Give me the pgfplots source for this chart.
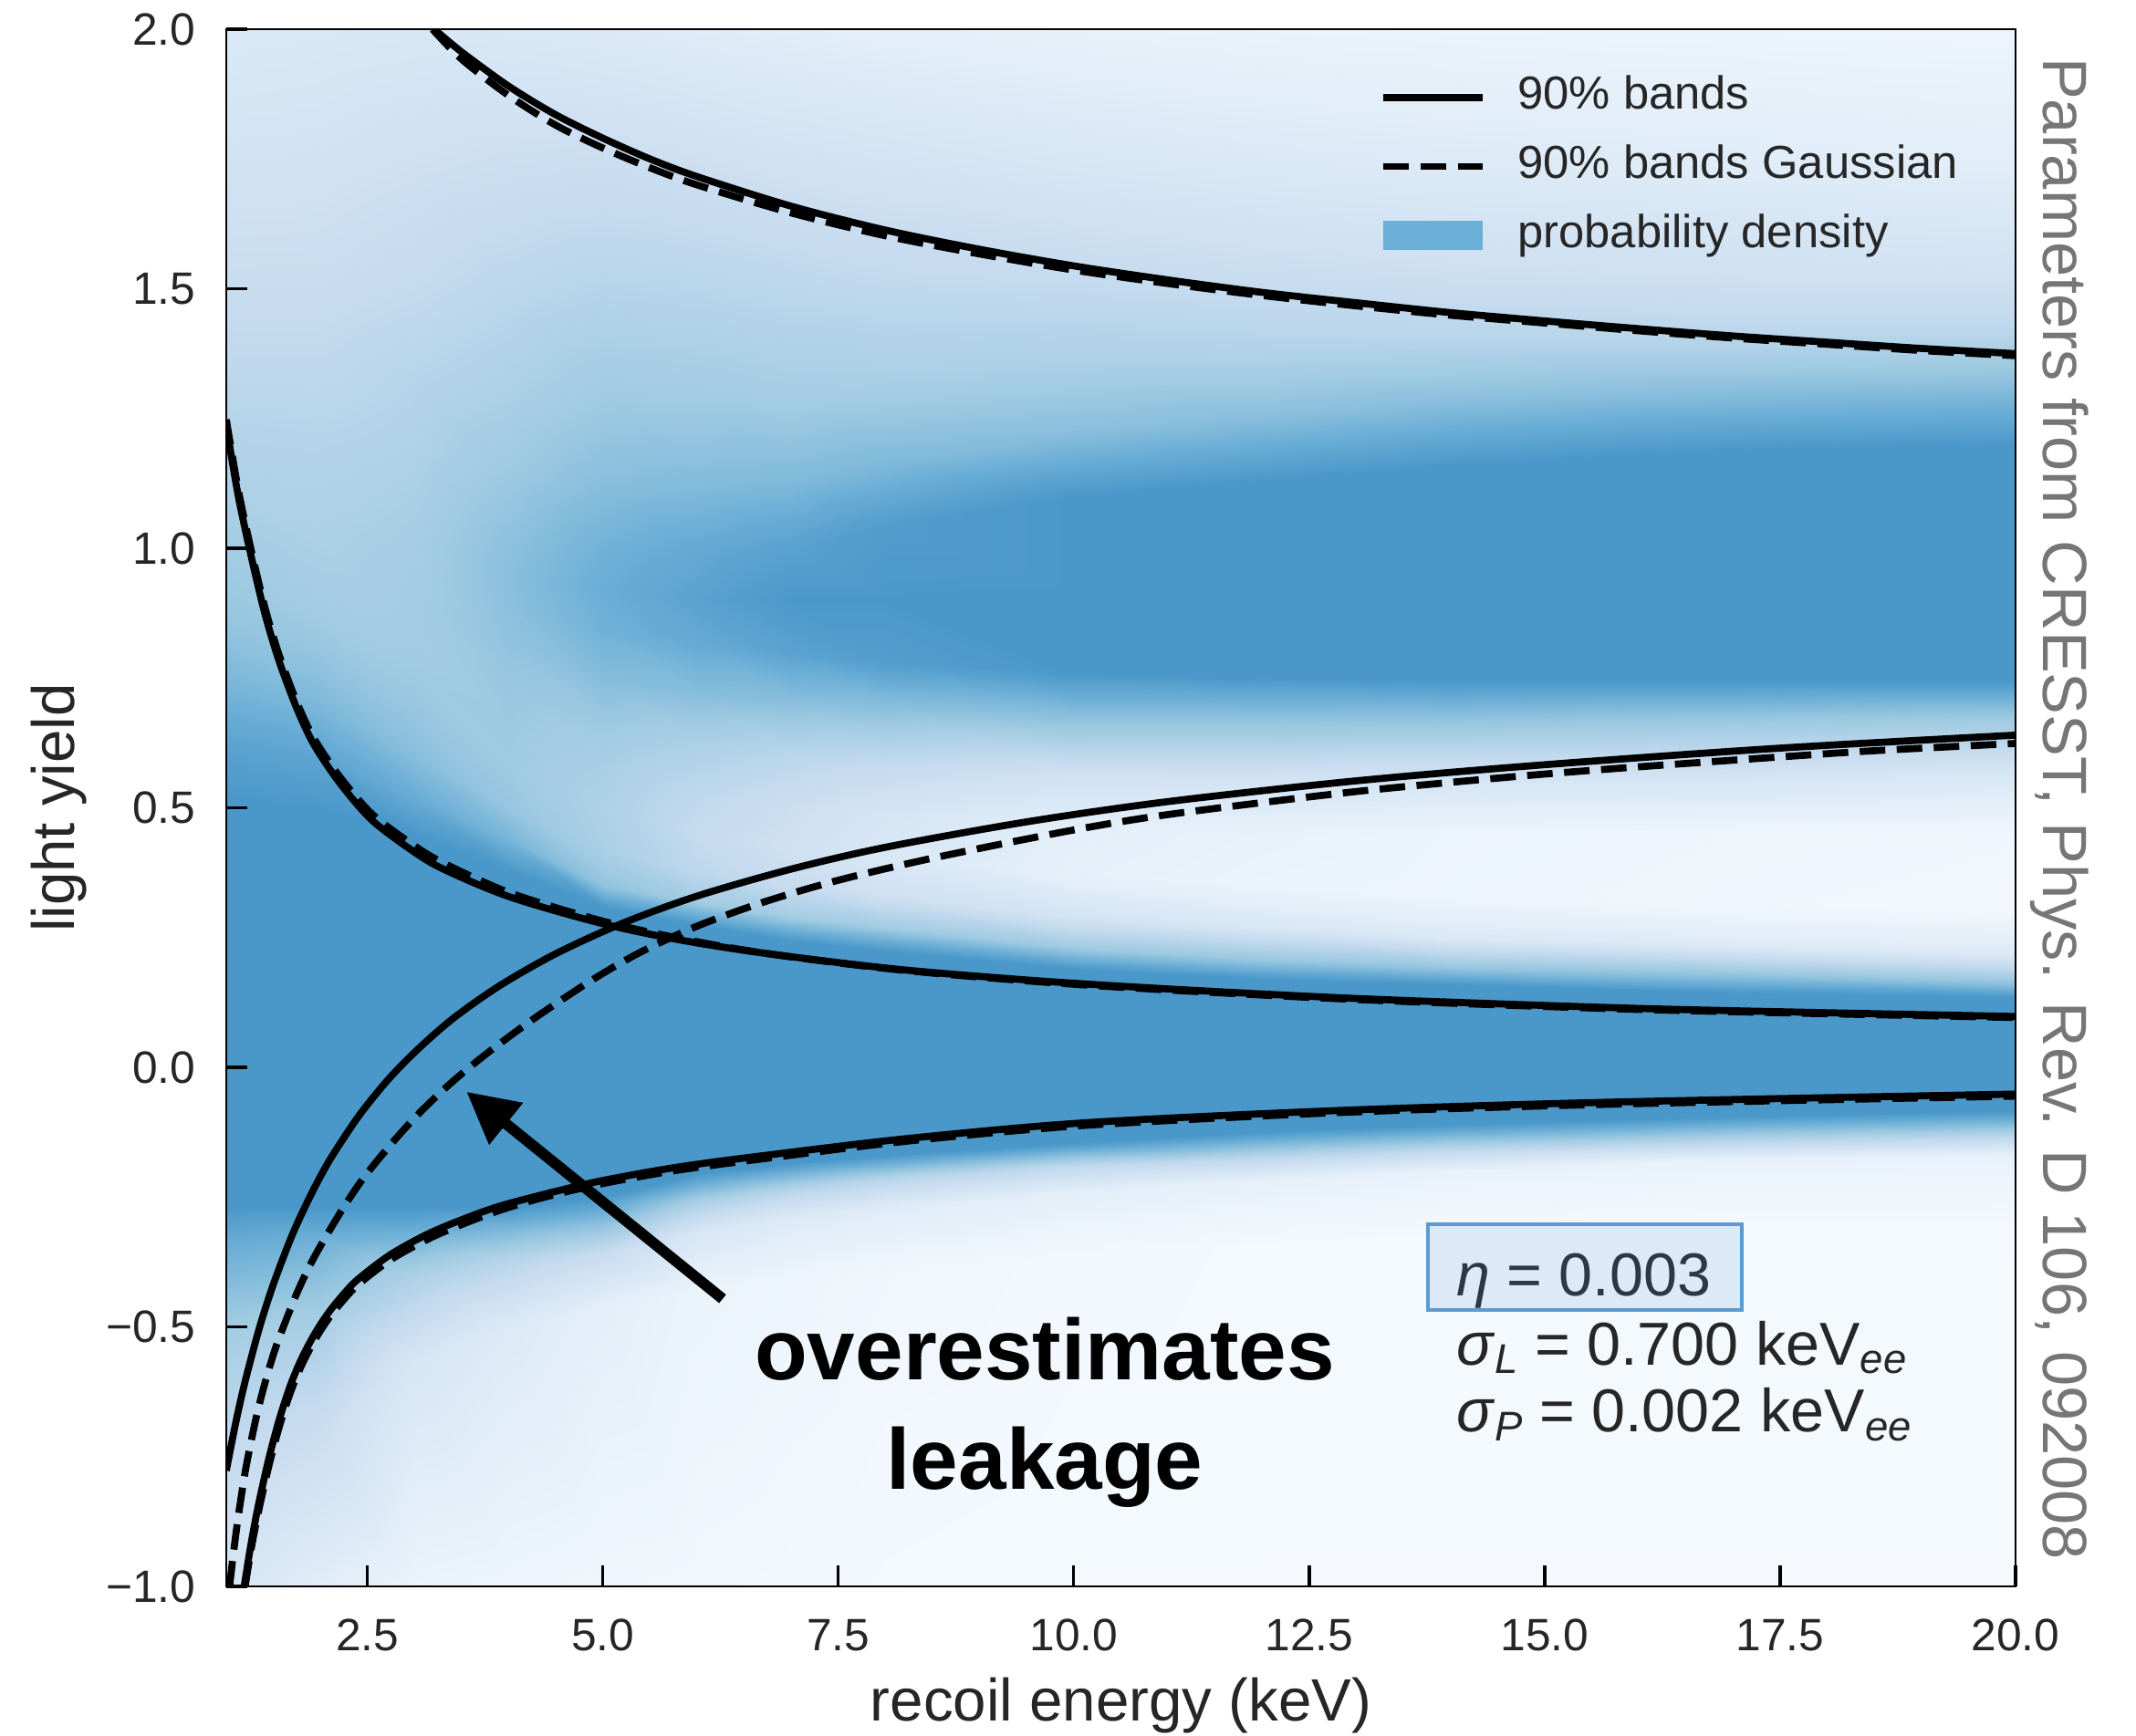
\documentclass[border=0pt]{standalone}
\usepackage{fontspec}
\setmainfont{Liberation Sans}
\usepackage{pgfplots}
\pgfplotsset{compat=1.18}
\usetikzlibrary{arrows.meta}

\definecolor{patchblue}{RGB}{107,174,214}
\definecolor{boxedge}{RGB}{90,155,208}
\definecolor{boxfill}{RGB}{220,233,246}
\definecolor{txt}{RGB}{38,38,38}
\definecolor{etatxt}{RGB}{43,57,68}
\definecolor{greytxt}{RGB}{118,118,118}
\newcommand\sub[1]{\raisebox{-2.8pt}{\fontsize{13}{13}\selectfont\itshape #1}}

\begin{document}
\begin{tikzpicture}
\path[use as bounding box] (-70.86pt,-46.57pt) rectangle (598.0pt,496.86pt);
\begin{axis}[
  at={(0pt,0pt)}, anchor=south west,
  scale only axis, width=560.29pt, height=487.71pt,
  xmin=1, xmax=20, ymin=-1, ymax=2,
  enlargelimits=false,
  axis on top,
  clip mode=individual,
  axis line style={line width=0.8pt, black},
  tick align=inside,
  xtick pos=left, ytick pos=left,
  major tick length=6.6pt,
  every tick/.style={line width=0.9pt, black},
  xtick={2.5,5,7.5,10,12.5,15,17.5,20},
  xticklabels={2.5,5.0,7.5,10.0,12.5,15.0,17.5,20.0},
  ytick={-1,-0.5,0,0.5,1,1.5,2},
  yticklabels={−1.0,−0.5,0.0,0.5,1.0,1.5,2.0},
  tick label style={font=\fontsize{14.2}{16}\selectfont, text=txt, inner sep=0pt},
  xticklabel style={anchor=base, yshift=-20pt},
  yticklabel style={anchor=east, xshift=-9.4pt},
  colormap={bl}{rgb255(0cm)=(247,251,255) rgb255(5cm)=(222,235,247) rgb255(10cm)=(198,219,239) rgb255(15cm)=(158,202,225) rgb255(20cm)=(107,174,214) rgb255(24cm)=(74,152,201)},
  point meta min=0, point meta max=1,
  xlabel={recoil energy (keV)},
  xlabel style={at={([yshift=-42pt]axis description cs:0.5,0)}, anchor=base, font=\fontsize{18.7}{22}\selectfont, text=txt, inner sep=0pt},
  ylabel={light yield},
  ylabel style={at={([xshift=-47.7pt]axis description cs:0,0.5)}, anchor=base, font=\fontsize{18.7}{22}\selectfont, text=txt, inner sep=0pt},
  legend style={at={(0.6445,0.9118)}, anchor=west, draw=none, fill=none,
    font=\fontsize{14.5}{17}\selectfont, text=txt, row sep=8.2pt, column sep=10pt,
    inner sep=0pt, nodes={inner sep=0pt, text height=10.4pt, text depth=3pt}},
  legend cell align=left,
]
\addlegendimage{legend image code/.code={\draw[black, line width=2.2pt] (0pt,0pt) -- (30.9pt,0pt);}}
\addlegendentry{90\% bands}
\addlegendimage{legend image code/.code={\draw[black, line width=2.2pt, dash pattern=on 8pt off 3.6pt] (0pt,0pt) -- (30.9pt,0pt);}}
\addlegendentry{90\% bands Gaussian}
\addlegendimage{legend image code/.code={\fill[patchblue] (0pt,-4.3pt) rectangle (30.9pt,4.3pt);}}
\addlegendentry{probability density}

% probability density (clipped), columns of constant recoil energy
\addplot[surf, shader=interp, forget plot, mesh/ordering=y varies, mesh/rows=20, point meta=explicit]
table[x=x, y=y, meta=v] {
x y v
1 -1.00 0.28
1 -0.75 0.42
1 -0.50 0.60
1 -0.34 0.85
1 -0.27 1.00
1 0.52 1.00
1 0.62 0.92
1 0.72 0.80
1 0.83 0.68
1 0.92 0.63
1 1.00 0.60
1 1.06 0.57
1 1.12 0.54
1 1.18 0.52
1 1.24 0.50
1 1.32 0.47
1 1.42 0.43
1 1.60 0.36
1 1.80 0.30
1 2.00 0.24
2 -1.00 0.18
2 -0.70 0.38
2 -0.47 0.60
2 -0.33 0.82
2 -0.27 1.00
2 0.50 1.00
2 0.60 0.90
2 0.70 0.76
2 0.80 0.66
2 0.88 0.60
2 0.96 0.57
2 1.02 0.55
2 1.08 0.54
2 1.14 0.52
2 1.22 0.50
2 1.30 0.47
2 1.42 0.43
2 1.58 0.37
2 1.76 0.32
2 2.00 0.25
3 -1.00 0.10
3 -0.57 0.27
3 -0.40 0.55
3 -0.33 0.78
3 -0.27 1.00
3 0.45 1.00
3 0.52 0.85
3 0.60 0.72
3 0.68 0.66
3 0.76 0.62
3 0.84 0.60
3 0.90 0.60
3 0.96 0.59
3 1.02 0.58
3 1.10 0.56
3 1.20 0.53
3 1.32 0.50
3 1.52 0.42
3 1.74 0.35
3 2.00 0.26
4 -1.00 0.08
4 -0.50 0.22
4 -0.37 0.50
4 -0.31 0.78
4 -0.27 1.00
4 0.38 1.00
4 0.44 0.78
4 0.50 0.66
4 0.58 0.62
4 0.66 0.63
4 0.74 0.65
4 0.82 0.68
4 0.88 0.70
4 0.94 0.71
4 1.02 0.69
4 1.14 0.63
4 1.30 0.55
4 1.50 0.47
4 1.74 0.37
4 2.00 0.25
5 -1.00 0.06
5 -0.46 0.16
5 -0.36 0.40
5 -0.30 0.70
5 -0.25 1.00
5 0.31 1.00
5 0.35 0.68
5 0.42 0.56
5 0.50 0.54
5 0.58 0.57
5 0.66 0.63
5 0.75 0.73
5 0.84 0.81
5 0.92 0.84
5 1.00 0.81
5 1.12 0.72
5 1.30 0.61
5 1.50 0.50
5 1.74 0.38
5 2.00 0.23
6 -1.00 0.05
6 -0.43 0.10
6 -0.32 0.26
6 -0.26 0.55
6 -0.205 1.00
6 0.275 1.00
6 0.32 0.60
6 0.38 0.46
6 0.45 0.42
6 0.52 0.45
6 0.62 0.55
6 0.72 0.72
6 0.82 0.87
6 0.90 0.92
6 1.00 0.87
6 1.12 0.74
6 1.30 0.60
6 1.50 0.49
6 1.74 0.36
6 2.00 0.20
7 -1.00 0.04
7 -0.41 0.08
7 -0.29 0.22
7 -0.235 0.50
7 -0.185 1.00
7 0.245 1.00
7 0.29 0.60
7 0.35 0.40
7 0.42 0.34
7 0.50 0.37
7 0.60 0.48
7 0.71 0.72
7 0.80 0.92
7 0.90 1.00
7 1.00 0.93
7 1.13 0.75
7 1.30 0.58
7 1.50 0.47
7 1.74 0.33
7 2.00 0.18
8 -1.00 0.03
8 -0.39 0.06
8 -0.27 0.20
8 -0.215 0.50
8 -0.17 1.00
8 0.225 1.00
8 0.27 0.60
8 0.33 0.34
8 0.40 0.25
8 0.48 0.28
8 0.58 0.42
8 0.70 0.72
8 0.78 0.96
8 0.90 1.00
8 1.04 0.97
8 1.16 0.76
8 1.32 0.57
8 1.50 0.45
8 1.74 0.31
8 2.00 0.16
10 -1.00 0.02
10 -0.36 0.04
10 -0.24 0.16
10 -0.19 0.45
10 -0.145 1.00
10 0.19 1.00
10 0.23 0.62
10 0.29 0.30
10 0.37 0.14
10 0.46 0.16
10 0.56 0.33
10 0.67 0.68
10 0.76 1.00
10 0.92 1.00
10 1.10 1.00
10 1.22 0.72
10 1.36 0.55
10 1.52 0.42
10 1.74 0.27
10 2.00 0.13
12 -1.00 0.02
12 -0.34 0.03
12 -0.22 0.14
12 -0.175 0.45
12 -0.125 1.00
12 0.17 1.00
12 0.205 0.66
12 0.27 0.26
12 0.35 0.10
12 0.45 0.12
12 0.55 0.30
12 0.67 0.68
12 0.75 1.00
12 0.93 1.00
12 1.13 1.00
12 1.25 0.72
12 1.38 0.52
12 1.52 0.39
12 1.74 0.24
12 2.00 0.11
14 -1.00 0.02
14 -0.32 0.03
14 -0.20 0.12
14 -0.16 0.45
14 -0.11 1.00
14 0.16 1.00
14 0.19 0.68
14 0.25 0.24
14 0.33 0.08
14 0.45 0.09
14 0.55 0.28
14 0.67 0.67
14 0.745 1.00
14 0.94 1.00
14 1.16 1.00
14 1.28 0.72
14 1.40 0.50
14 1.52 0.37
14 1.74 0.22
14 2.00 0.10
17 -1.00 0.02
17 -0.30 0.03
17 -0.18 0.12
17 -0.145 0.45
17 -0.095 1.00
17 0.145 1.00
17 0.175 0.70
17 0.235 0.22
17 0.31 0.06
17 0.45 0.07
17 0.55 0.27
17 0.675 0.66
17 0.745 1.00
17 0.95 1.00
17 1.19 1.00
17 1.30 0.72
17 1.41 0.48
17 1.52 0.35
17 1.74 0.20
17 2.00 0.09
20 -1.00 0.02
20 -0.30 0.03
20 -0.17 0.12
20 -0.135 0.45
20 -0.085 1.00
20 0.135 1.00
20 0.16 0.70
20 0.22 0.22
20 0.30 0.05
20 0.45 0.06
20 0.56 0.25
20 0.68 0.65
20 0.745 1.00
20 0.95 1.00
20 1.20 1.00
20 1.31 0.72
20 1.42 0.47
20 1.52 0.33
20 1.74 0.18
20 2.00 0.08
};

% 90% bands (solid)
\addplot[forget plot, black, line width=2.2pt, smooth, tension=0.5] coordinates {
(3.21,2.0) (3.5,1.956) (4,1.89) (4.5,1.835) (5,1.79) (5.5,1.75) (6,1.716) (7,1.659) (8,1.613) (9,1.576) (10,1.544) (11,1.517) (12,1.493) (13,1.473) (14,1.454) (15,1.438) (16,1.423) (17,1.409) (18,1.397) (19,1.385) (20,1.375)};
\addplot[forget plot, black, line width=2.2pt, smooth, tension=0.5] coordinates {
(1.0,-0.777) (1.1,-0.685) (1.2,-0.605) (1.35,-0.503) (1.5,-0.418) (1.7,-0.323) (1.9,-0.245) (2.1,-0.178) (2.4,-0.0955) (2.7,-0.0275) (3.0,0.029) (3.4,0.093) (3.9,0.157) (4.5,0.219) (5.2,0.277) (6,0.330) (7,0.382) (8,0.424) (9.5,0.473) (11,0.512) (13,0.552) (15,0.583) (17.5,0.615) (20,0.640)};
\addplot[forget plot, black, line width=2.2pt, smooth, tension=0.5] coordinates {
(1.0,1.236) (1.13,1.098) (1.27,0.98) (1.41,0.874) (1.56,0.783) (1.75,0.691) (1.93,0.622) (2.2,0.549) (2.53,0.479) (2.9,0.427) (3.27,0.385) (4.0,0.329) (4.97,0.278) (5.8,0.246) (6.75,0.219) (8.24,0.187) (10.17,0.160) (12.83,0.134) (15.72,0.115) (17.8,0.106) (20,0.098)};
\addplot[forget plot, black, line width=2.2pt, smooth, tension=0.5] coordinates {
(1.19,-1.0) (1.26,-0.921) (1.34,-0.844) (1.45,-0.755) (1.56,-0.68) (1.68,-0.613) (1.8,-0.561) (1.94,-0.513) (2.08,-0.474) (2.24,-0.438) (2.4,-0.408) (2.75,-0.36) (3.2,-0.316) (3.79,-0.274) (4.3,-0.248) (4.97,-0.219) (5.8,-0.192) (6.75,-0.169) (8.24,-0.137) (10.1,-0.107) (12.83,-0.083) (15.72,-0.067) (20,-0.0515)};

% 90% bands Gaussian (dashed)
\addplot[forget plot, black, line width=2.2pt, dash pattern=on 8pt off 3.6pt, smooth, tension=0.5] coordinates {
(3.19,2.0) (3.5,1.942) (4,1.872) (4.5,1.815) (5,1.771) (5.5,1.733) (6,1.7) (7,1.646) (8,1.602) (9,1.567) (10,1.536) (11,1.51) (12,1.487) (13,1.467) (14,1.449) (15,1.434) (16,1.419) (17,1.405) (18,1.393) (19,1.381) (20,1.371)};
\addplot[forget plot, black, line width=2.2pt, dash pattern=on 8pt off 3.6pt, smooth, tension=0.5] coordinates {
(1.035,-1.0) (1.08,-0.93) (1.13,-0.862) (1.2,-0.78) (1.27,-0.715) (1.33,-0.665) (1.4,-0.615) (1.48,-0.565) (1.56,-0.522) (1.75,-0.435) (1.93,-0.367) (2.2,-0.283) (2.45,-0.215) (2.75,-0.148) (3.05,-0.088) (3.4,-0.028) (3.79,0.03) (4.3,0.098) (4.9,0.17) (5.4,0.222) (6.0,0.272) (6.7,0.318) (7.49,0.36) (8.5,0.403) (9.93,0.455) (11,0.487) (12.83,0.528) (14,0.549) (15,0.565) (16,0.579) (17.5,0.598) (18.5,0.61) (20,0.624)};
\addplot[forget plot, black, line width=2.2pt, dash pattern=on 8pt off 3.6pt, smooth, tension=0.5] coordinates {
(1.0,1.248) (1.13,1.11) (1.27,0.992) (1.41,0.886) (1.56,0.795) (1.75,0.703) (1.93,0.634) (2.2,0.561) (2.53,0.491) (2.9,0.439) (3.27,0.397) (4.0,0.337) (4.97,0.283) (5.8,0.249) (6.75,0.219) (8.24,0.186) (10.17,0.158) (12.83,0.132) (15.72,0.113) (17.8,0.104) (20,0.096)};
\addplot[forget plot, black, line width=2.2pt, dash pattern=on 8pt off 3.6pt, smooth, tension=0.5] coordinates {
(1.2,-1.0) (1.27,-0.922) (1.35,-0.849) (1.46,-0.762) (1.57,-0.688) (1.69,-0.622) (1.81,-0.57) (1.95,-0.522) (2.09,-0.483) (2.25,-0.447) (2.41,-0.417) (2.76,-0.369) (3.21,-0.325) (3.8,-0.282) (4.3,-0.254) (4.97,-0.225) (5.8,-0.198) (6.75,-0.175) (8.24,-0.142) (10.1,-0.112) (12.83,-0.087) (15.72,-0.071) (20,-0.0555)};

\draw[black, line width=3.4pt, -{Triangle[length=16pt,width=16pt]}] (axis cs:6.27,-0.446) -- (axis cs:3.55,-0.047);
\end{axis}

% parameter box and text
\node[draw=boxedge, fill=boxfill, line width=1.1pt, minimum width=98.3pt, minimum height=26.9pt, anchor=south west, inner sep=0pt] at (375.7pt,86.0pt) {};
\node[anchor=base west, inner sep=0pt, font=\fontsize{19}{21}\selectfont, text=etatxt] at (385pt,91.1pt) {\textit{η} = 0.003};
\node[anchor=base west, inner sep=0pt, font=\fontsize{19}{21}\selectfont, text=txt] at (385pt,69.4pt) {\textit{σ}\sub{L} = 0.700 keV\sub{ee}};
\node[anchor=base west, inner sep=0pt, font=\fontsize{19}{21}\selectfont, text=txt] at (385pt,48.3pt) {\textit{σ}\sub{P} = 0.002 keV\sub{ee}};

% annotation
\node[anchor=base, inner sep=0pt, font=\fontsize{27}{30}\selectfont\bfseries] at (256.3pt,64.6pt) {overestimates};
\node[anchor=base, inner sep=0pt, font=\fontsize{27}{30}\selectfont\bfseries] at (256.3pt,30.3pt) {leakage};

% source note
\node[rotate=-90, anchor=base west, inner sep=0pt, font=\fontsize{19.6}{21}\selectfont, text=greytxt] at (569.1pt,479.0pt) {Parameters from CRESST, Phys. Rev. D 106, 092008};
\end{tikzpicture}
\end{document}
